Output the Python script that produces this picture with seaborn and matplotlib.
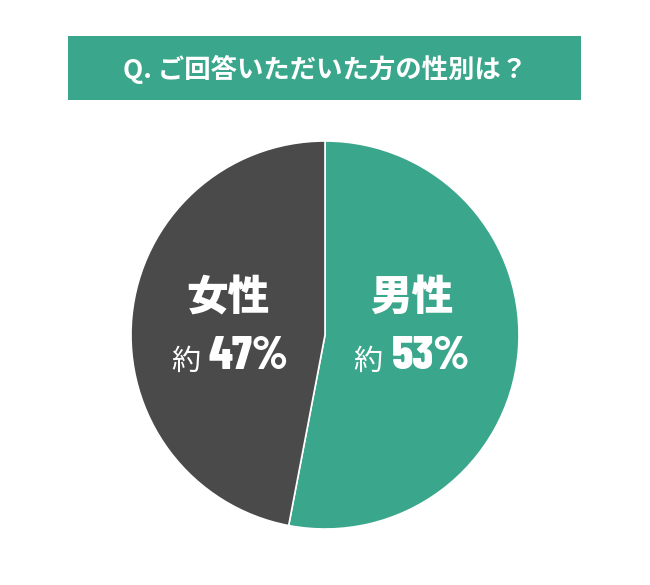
import matplotlib
matplotlib.use("Agg")
import matplotlib.pyplot as plt
import seaborn as sns
from matplotlib.patches import Rectangle

# データ
labels = ["男性", "女性"]
values = [53, 47]
pct_labels = ["53%", "47%"]
colors = ["#3aa68b", "#4a4a4a"]
title = "Q. ご回答いただいた方の性別は？"

sns.set_theme(style="white")
plt.rcParams['font.family'] = ['Noto Sans CJK JP', 'DejaVu Sans']

fig = plt.figure(figsize=(6.5, 5.85), dpi=100)
fig.patch.set_facecolor("white")

# タイトル帯
fig.patches.append(Rectangle((68 / 650, 1 - 100 / 585), 513 / 650, 64 / 585,
                             transform=fig.transFigure, facecolor=colors[0],
                             edgecolor="none", zorder=0))
fig.text(325 / 650, 1 - 69 / 585, title, ha="center", va="center",
         color="white", fontsize=19, fontweight="bold")

# 円グラフ
ax = fig.add_axes([131 / 650, 1 - 529 / 585, 388 / 650, 388 / 585])
ax.pie(values, colors=colors, startangle=90, counterclock=False,
       wedgeprops=dict(edgecolor="white", linewidth=1.2))
ax.set_xlim(-1, 1)
ax.set_ylim(-1, 1)
ax.set_aspect("equal")
ax.axis("off")

# ラベル
pos = {"男性": (0.445, 0.19, 0.294, 0.345), "女性": (-0.5, 0.19, -0.644, -0.598)}
for lab, pct in zip(labels, pct_labels):
    x, y, xr, xl = pos[lab]
    ax.text(x, y, lab, ha="center", va="center", color="white",
            fontsize=30, fontweight=900)
    ax.text(xr, -0.178, "約", ha="right", va="baseline", color="white",
            fontsize=21)
    ax.text(xl, -0.175, pct, ha="left", va="baseline", color="white",
            fontsize=34, fontweight=800,
            family=["Barlow Condensed", "DejaVu Sans"])

plt.savefig("out.png", dpi=100)
